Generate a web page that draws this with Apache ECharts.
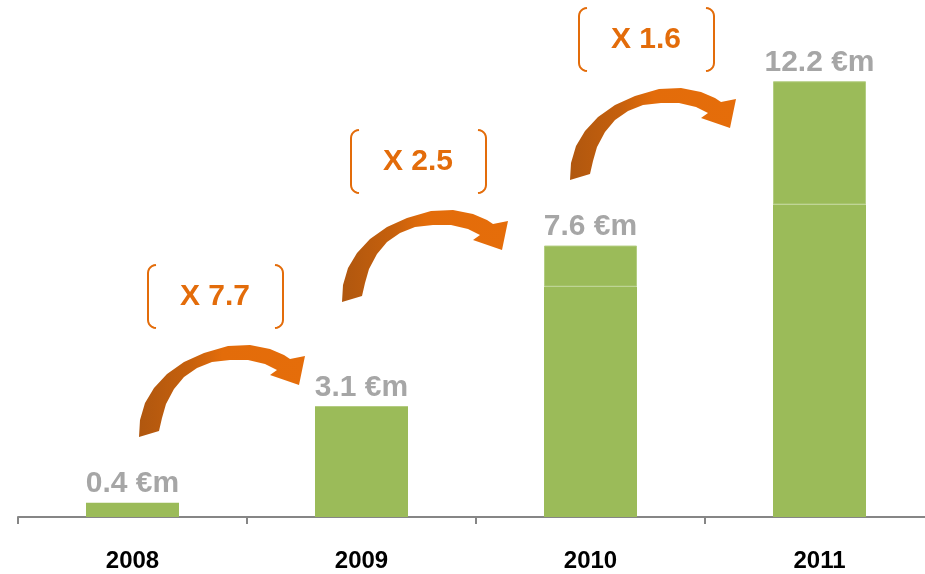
<!DOCTYPE html>
<html lang="en">
<head>
<meta charset="UTF-8">
<title>Revenue growth</title>
<style>
    *{margin:0;padding:0;}
    html, body{width:100%;height:100%;background:#fff;overflow:hidden;}
    /* the axis runs past the right edge of the picture */
    #main{width:934px;height:574px;}
</style>
<script src="https://cdn.jsdelivr.net/npm/echarts@6/dist/echarts.min.js"></script>
</head>
<body>
<div id="main"></div>
<script>
    var years = ['2008', '2009', '2010', '2011'];
    var totals = [0.4, 3.1, 7.6, 12.2];
    // 2010 and 2011 bars show a faint split line, so they are drawn in two parts
    var lowerPart = [0.4, 3.1, 6.45, 8.75];
    var upperPart = [0, 0, 1.15, 3.45];
    var growth = ['X 7.7', 'X 2.5', 'X 1.6'];

    // tail point of each curved arrow (pixels), bracket box sits above it
    var arrowAt = [[149, 435], [352, 300], [580, 178]];
    // outline of one arrow, relative to its tail
    var arrowShape = [
        [-10, 2], [-9, -15], [-4, -32], [5, -47], [18, -61], [35, -73], [55, -82],
        [79, -89], [101, -90], [121, -86], [135, -80], [141, -76],
        [156, -79], [150, -50], [121, -60], [128, -65],
        [116, -71], [99, -75], [81, -75], [63, -73], [48, -67], [35, -58],
        [25, -46], [17, -31], [13, -17], [10, -4]
    ];

    var orange = '#e36c0a';
    var chart = echarts.init(document.getElementById('main'));

    // one side of a bracket: vertical stroke with rounded ends
    function bracket(w, h, r, right) {
        var pts = [];
        var sx = right ? -1 : 1;
        var x0 = right ? w : 0;
        var i, a;
        for (i = 0; i <= 6; i++) {
            a = Math.PI / 2 * (1 - i / 6);
            pts.push([x0 + sx * (r - r * Math.cos(a)), r - r * Math.sin(a)]);
        }
        for (i = 0; i <= 6; i++) {
            a = Math.PI / 2 * i / 6;
            pts.push([x0 + sx * (r - r * Math.cos(a)), h - r + r * Math.sin(a)]);
        }
        return pts;
    }

    var graphics = [];
    arrowAt.forEach(function (a, i) {
        graphics.push({
            type: 'polygon',
            x: a[0], y: a[1], z: 100,
            shape: {points: arrowShape},
            style: {
                fill: new echarts.graphic.LinearGradient(0, 0, 1, 0, [
                    {offset: 0, color: '#b0570f'},
                    {offset: 0.3, color: '#c5600d'},
                    {offset: 0.5, color: '#e36c0a'},
                    {offset: 1, color: '#e56d0a'}
                ])
            }
        });
        [false, true].forEach(function (right) {
            graphics.push({
                type: 'polyline',
                x: a[0] - 1, y: a[1] - 170, z: 100,
                shape: {points: bracket(135, 63, 8, right)},
                style: {fill: null, stroke: orange, lineWidth: 2}
            });
        });
        graphics.push({
            type: 'text',
            x: a[0] + 66, y: a[1] - 138, z: 100,
            style: {
                text: growth[i],
                fill: orange,
                font: 'bold 30px "Liberation Sans"',
                align: 'center',
                verticalAlign: 'middle'
            }
        });
    });

    var option = {
        backgroundColor: '#fff',
        animation: false,
        grid: {left: 18, right: 0, top: 17, bottom: 57},
        xAxis: {
            type: 'category',
            data: years,
            axisLine: {lineStyle: {color: '#868686', width: 2}},
            axisTick: {show: true, length: 7, lineStyle: {color: '#868686', width: 2}},
            axisLabel: {
                color: '#000',
                fontFamily: 'Liberation Sans',
                fontWeight: 'bold',
                fontSize: 24,
                margin: 32
            }
        },
        yAxis: {type: 'value', min: 0, max: 14, show: false},
        series: [
            {
                type: 'bar',
                stack: 'rev',
                barWidth: 93,
                data: lowerPart,
                itemStyle: {color: '#9bbb59'}
            },
            {
                type: 'bar',
                stack: 'rev',
                barWidth: 93,
                data: upperPart.map(function (v) {
                    return {value: v, itemStyle: {borderWidth: v > 0 ? 1 : 0}};
                }),
                itemStyle: {color: '#9bbb59', borderColor: '#b3cd82'},
                label: {
                    show: true,
                    position: 'top',
                    distance: 4,
                    color: '#a6a6a6',
                    fontFamily: 'Liberation Sans',
                    fontWeight: 'bold',
                    fontSize: 30,
                    formatter: function (p) {
                        return totals[p.dataIndex].toFixed(1) + ' €m';
                    }
                }
            }
        ],
        graphic: graphics
    };
    chart.setOption(option);
</script>
</body>
</html>
